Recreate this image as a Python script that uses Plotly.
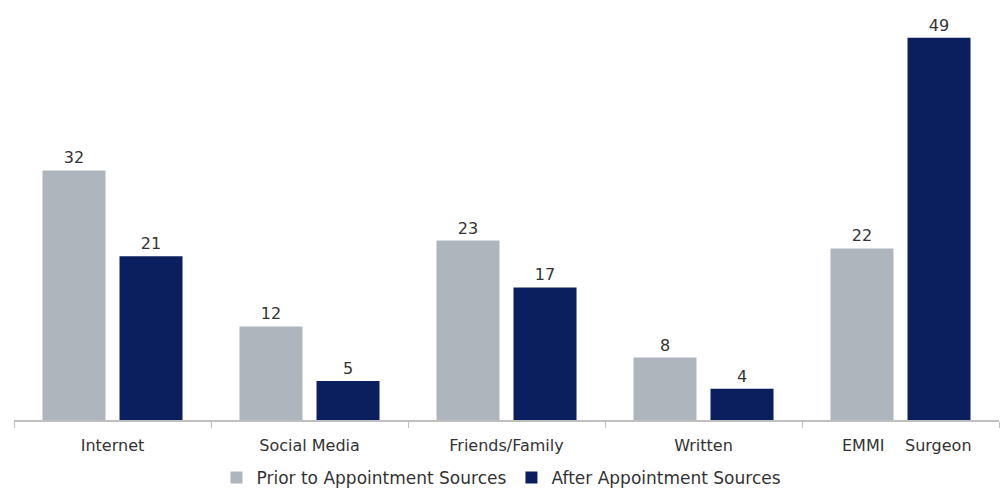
import plotly.graph_objects as go

categories = ["Internet", "Social Media", "Friends/Family", "Written", "EMMI/Surgeon"]
tick_labels = ["Internet", "Social Media", "Friends/Family", "Written", ""]
last_split_labels = ["EMMI", "Surgeon"]
prior_values = [32, 12, 23, 8, 22]
after_values = [21, 5, 17, 4, 49]
series_names = ["Prior to Appointment Sources", "After Appointment Sources"]

GRAY = "#aeb5bd"
NAVY = "#0b1f5e"
FONT = "DejaVu Sans"
TXT = "#333333"

fig = go.Figure()
fig.add_trace(go.Bar(
    x=categories, y=prior_values, name=series_names[0],
    marker=dict(color=GRAY, line=dict(width=0)),
    text=prior_values, textposition="outside",
    textfont=dict(family=FONT, size=16, color=TXT), cliponaxis=False,
))
fig.add_trace(go.Bar(
    x=categories, y=after_values, name=series_names[1],
    marker=dict(color=NAVY, line=dict(width=0)),
    text=after_values, textposition="outside",
    textfont=dict(family=FONT, size=16, color=TXT), cliponaxis=False,
))

for lbl, shift in zip(last_split_labels, [-38, 38]):
    fig.add_annotation(
        x=categories[-1], y=0, xref="x", yref="y", text=lbl, showarrow=False,
        xshift=shift, yshift=-25, font=dict(family=FONT, size=16, color=TXT),
    )

fig.update_layout(
    width=1003, height=488,
    margin=dict(l=14, r=4, t=10, b=68, autoexpand=False),
    plot_bgcolor="white", paper_bgcolor="white",
    barmode="group", bargap=0.218, bargroupgap=0.182,
    showlegend=True,
    legend=dict(orientation="h", x=0.5, xanchor="center", xref="container",
                y=-0.1415, yanchor="middle", yref="paper",
                font=dict(family=FONT, size=17, color=TXT),
                itemclick=False, tracegroupgap=0, itemwidth=30),
    font=dict(family=FONT, color=TXT),
)
fig.update_xaxes(
    tickvals=categories, ticktext=tick_labels, automargin=False,
    showline=True, linecolor="#bfbfbf", linewidth=1.5,
    ticks="outside", tickson="boundaries", ticklen=6, tickcolor="#bfbfbf",
    ticklabelstandoff=10,
    tickfont=dict(family=FONT, size=16, color=TXT), showgrid=False,
)
fig.update_yaxes(range=[0, 52.56], visible=False, showgrid=False, zeroline=False)

fig.write_html("out.html")
